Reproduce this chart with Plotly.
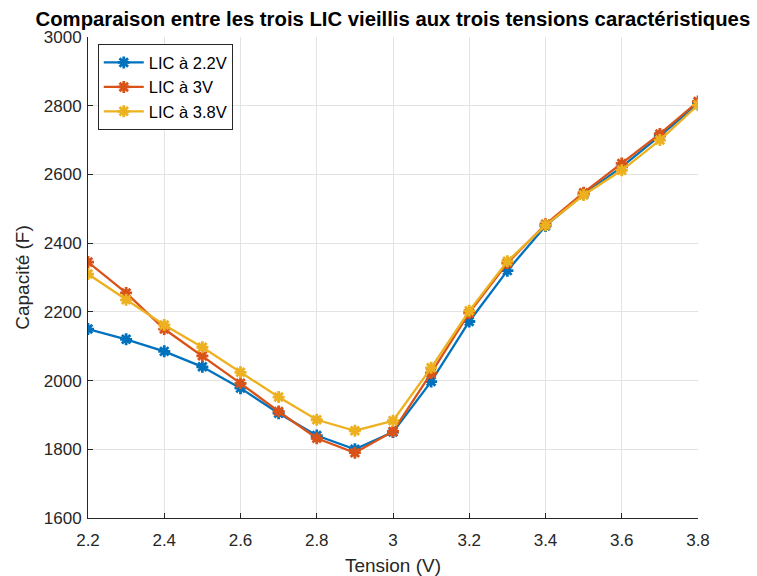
import plotly.graph_objects as go

tension = [2.2, 2.3, 2.4, 2.5, 2.6, 2.7, 2.8, 2.9, 3.0, 3.1, 3.2, 3.3, 3.4, 3.5, 3.6, 3.7, 3.8]
cap_22 = [2150, 2120, 2085, 2040, 1978, 1905, 1840, 1800, 1850, 1997, 2172, 2320, 2450, 2542, 2622, 2712, 2805]
cap_3 = [2345, 2255, 2150, 2072, 1992, 1910, 1832, 1790, 1852, 2022, 2197, 2342, 2455, 2547, 2632, 2718, 2812]
cap_38 = [2310, 2235, 2162, 2097, 2024, 1952, 1886, 1854, 1883, 2037, 2203, 2347, 2452, 2540, 2612, 2700, 2802]

series = [
    ("LIC à 2.2V", cap_22, "#0072BD"),
    ("LIC à 3V", cap_3, "#D95319"),
    ("LIC à 3.8V", cap_38, "#EDB120"),
]

font = "Liberation Sans, Arial, sans-serif"
fig = go.Figure()
for name, vals, col in series:
    fig.add_trace(go.Scatter(
        x=tension, y=vals, name=name, mode="lines+markers",
        line=dict(color=col, width=2.3),
        marker=dict(symbol="asterisk-open", size=10, color=col,
                    line=dict(color=col, width=2.8)),
    ))

axis_common = dict(
    showgrid=True, gridcolor="#e3e3e3", gridwidth=1,
    showline=True, linecolor="#262626", linewidth=1,
    ticks="inside", ticklen=5, tickcolor="#262626",
    tickfont=dict(family=font, size=17, color="#262626"),
    zeroline=False, mirror=False, automargin=False,
)

fig.update_layout(
    width=757, height=576,
    margin=dict(l=88, r=59, t=37, b=58),
    paper_bgcolor="white", plot_bgcolor="white",
    title=dict(text="<b>Comparaison entre les trois LIC vieillis aux trois tensions caractéristiques</b>",
               x=0.519, xanchor="center", y=0.968, yanchor="middle",
               font=dict(family=font, size=20.3, color="black")),
    xaxis=dict(range=[2.2, 3.8], tickvals=[2.2, 2.4, 2.6, 2.8, 3.0, 3.2, 3.4, 3.6, 3.8],
               ticktext=["2.2", "2.4", "2.6", "2.8", "3", "3.2", "3.4", "3.6", "3.8"],
               ticklabelstandoff=7,
               title=dict(text="Tension (V)", font=dict(family=font, size=19, color="#262626"), standoff=10),
               **axis_common),
    yaxis=dict(range=[1600, 3000], tickvals=list(range(1600, 3001, 200)),
               ticklabelstandoff=2,
               title=dict(text="Capacité (F)", font=dict(family=font, size=19, color="#262626"), standoff=9),
               **axis_common),
    legend=dict(x=0.016, y=0.985, xanchor="left", yanchor="top",
                bgcolor="white", bordercolor="#262626", borderwidth=1,
                font=dict(family=font, size=16.5, color="black"),
                tracegroupgap=0, itemwidth=40),
    showlegend=True,
)

fig.write_html("out.html")
